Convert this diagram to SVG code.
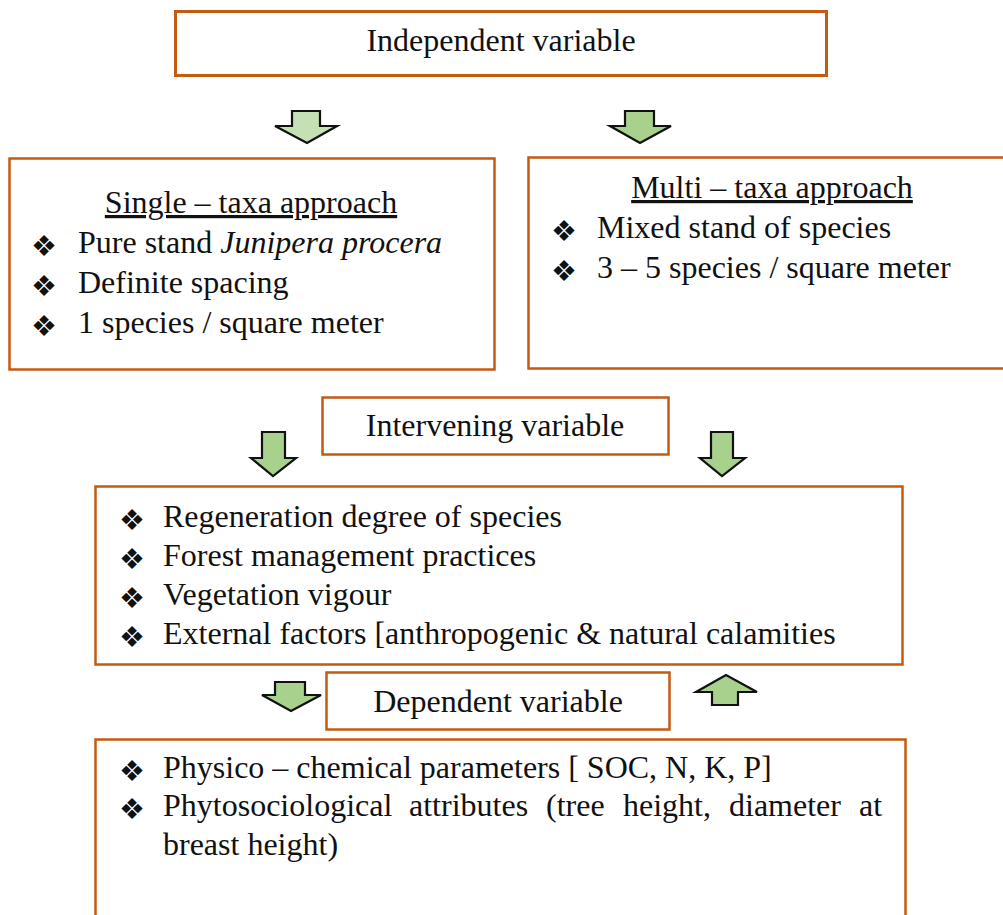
<svg xmlns="http://www.w3.org/2000/svg" width="1003" height="915" viewBox="0 0 1003 915">
<style>
.box{fill:#ffffff;stroke:#C55A11;stroke-width:2.5}
.t{font-family:"Liberation Serif","Times New Roman",serif;font-size:32px;fill:#111}
.c{text-anchor:middle}
.u{text-decoration:underline}
.b{font-family:"DejaVu Sans",sans-serif;font-size:29px;fill:#111}
.ar{fill:#A9D18E;stroke:#111;stroke-width:2.2;stroke-linejoin:miter}
.ar2{fill:#C5E0B4;stroke:#111;stroke-width:2.2}
</style>
<rect width="1003" height="915" fill="#ffffff"/>
<g id="independent">
<rect class="box" x="175.5" y="11.5" width="651" height="64" style="stroke-width:3"/>
<text class="t c" x="501" y="51">Independent variable</text>
</g>
<g id="single">
<rect class="box" x="9.5" y="158.5" width="485" height="211"/>
<text class="t c u" x="251" y="213">Single – taxa approach</text>
<text class="b" x="31" y="256">❖</text><text class="t" x="78" y="253">Pure stand <tspan font-style="italic">Junipera procera</tspan></text>
<text class="b" x="31" y="296">❖</text><text class="t" x="78" y="293">Definite spacing</text>
<text class="b" x="31" y="336">❖</text><text class="t" x="78" y="333">1 species / square meter</text>
</g>
<g id="multi">
<rect class="box" x="528.5" y="157.5" width="500" height="211"/>
<text class="t c u" x="772" y="198">Multi – taxa approach</text>
<text class="b" x="551" y="241">❖</text><text class="t" x="597" y="238">Mixed stand of species</text>
<text class="b" x="551" y="281">❖</text><text class="t" x="597" y="278">3 – 5 species / square meter</text>
</g>
<g id="intervening">
<rect class="box" x="322.5" y="397.5" width="346" height="57"/>
<text class="t c" x="495" y="436">Intervening variable</text>
</g>
<g id="factors">
<rect class="box" x="95.5" y="486.5" width="807" height="178"/>
<text class="b" x="119" y="530">❖</text><text class="t" x="163" y="527">Regeneration degree of species</text>
<text class="b" x="119" y="569">❖</text><text class="t" x="163" y="566">Forest management practices</text>
<text class="b" x="119" y="608">❖</text><text class="t" x="163" y="605">Vegetation vigour</text>
<text class="b" x="119" y="647">❖</text><text class="t" x="163" y="644">External factors [anthropogenic &amp; natural calamities</text>
</g>
<g id="dependent">
<rect class="box" x="326.5" y="672.5" width="343" height="57"/>
<text class="t c" x="498" y="712">Dependent variable</text>
</g>
<g id="outcomes">
<rect class="box" x="95.5" y="739.5" width="810" height="200"/>
<text class="b" x="119" y="781">❖</text><text class="t" x="163" y="778">Physico – chemical parameters [ SOC, N, K, P]</text>
<text class="b" x="119" y="819">❖</text><text class="t" y="816"><tspan x="163">Phytosociological</tspan><tspan x="409">attributes</tspan><tspan x="546">(tree</tspan><tspan x="623">height,</tspan><tspan x="729">diameter</tspan><tspan x="859">at</tspan></text>
<text class="t" x="163" y="855">breast height)</text>
</g>
<g id="connectors">
<path class="ar2" d="M292,111 H320 V126 H337 L307,143 L275,126 H292 Z"/>
<path class="ar" d="M625,111 H654 V126 H671 L640,143 L610,126 H625 Z"/>
<path class="ar" d="M262,432 H285 V458 H296 L273,476 L251,458 H262 Z"/>
<path class="ar" d="M711,432 H733 V458 H745 L722,476 L700,458 H711 Z"/>
<path class="ar" d="M275,682 H305 V695 H321 L291,711 L262,695 H275 Z"/>
<path class="ar" d="M712,705 H738 V692 H757 L726,675 L696,692 H712 Z"/>
</g>
</svg>
